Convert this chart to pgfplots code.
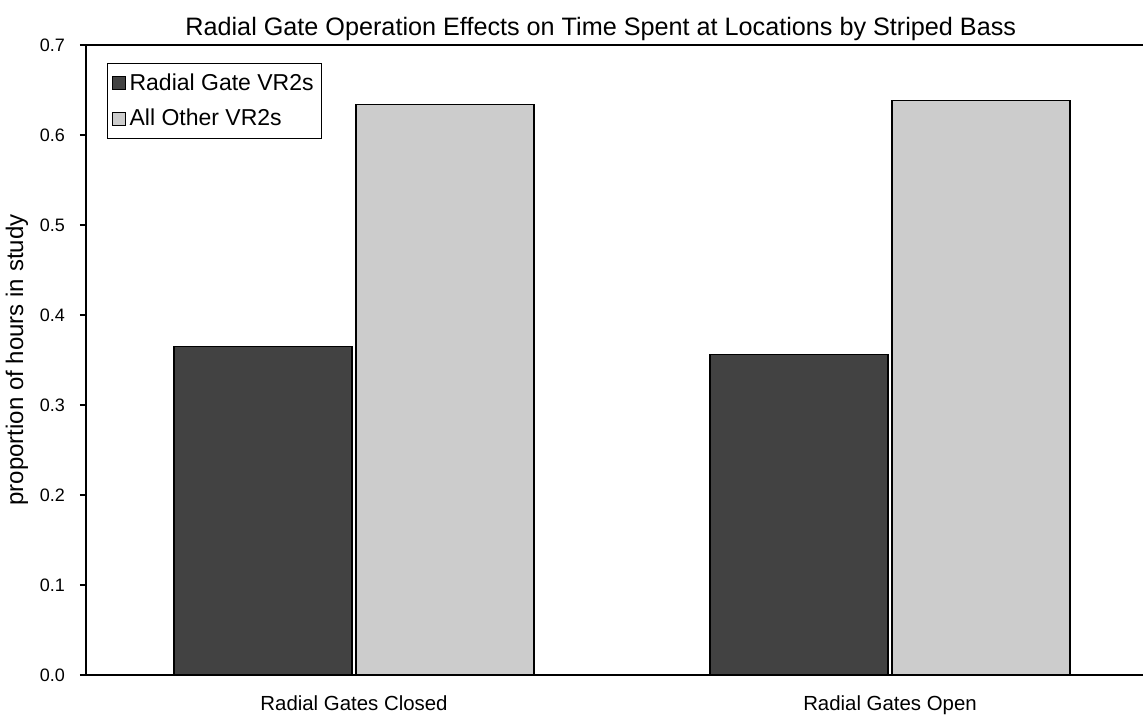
\documentclass[border=0pt]{standalone}
\usepackage{pgfplots}
\pgfplotsset{compat=1.18}
\usepackage{fontspec}
\setmainfont{Liberation Sans}
\usetikzlibrary{calc}
\definecolor{darkbar}{gray}{0.26}
\definecolor{lightbar}{gray}{0.80}
\begin{document}
\begin{tikzpicture}
\begin{axis}[
  scale only axis,
  width=528.5pt, height=315pt,
  xmin=0, xmax=1.972,
  ymin=0, ymax=0.7,
  axis x line*=bottom, axis y line*=left,
  axis line style={-, line width=0.8pt},
  ybar, bar width=89pt,
  xtick={0.5,1.5},
  xticklabels={Radial Gates Closed, Radial Gates Open},
  x tick style={draw=none},
  extra x ticks={1},
  extra x tick labels={},
  extra x tick style={tick style={draw=black, line width=0.6pt}, major tick length=4pt, tick align=outside},
  xticklabel style={font=\fontsize{10.2}{12}\selectfont, yshift=-4pt},
  ytick={0,0.1,...,0.7},
  yticklabel style={/pgf/number format/fixed, /pgf/number format/fixed zerofill, /pgf/number format/precision=1, /pgf/number format/assume math mode=true, font=\fontsize{9}{10}\selectfont, xshift=-4pt},
  y tick style={black, line width=0.6pt},
  tick align=outside, major tick length=3pt,
  ylabel={proportion of hours in study},
  every axis y label/.style={at={(rel axis cs:0,0.5)}, rotate=90, anchor=center, yshift=34.5pt, font=\fontsize{12}{14}\selectfont},
  title={Radial Gate Operation Effects on Time Spent at Locations by Striped Bass},
  title style={at={(rel axis cs:0.487,1)}, anchor=base, yshift=-1.5pt, font=\fontsize{12.6}{14}\selectfont},
  legend style={at={(rel axis cs:0,1)}, anchor=north west, xshift=10.5pt, yshift=-9pt,
    draw=black, line width=0.5pt, font=\fontsize{11.5}{13}\selectfont,
    inner xsep=2pt, inner ysep=3pt, row sep=4pt, cells={anchor=west}},
  legend image code/.code={\draw[#1, line width=0.5pt] (0cm,-0.11cm) rectangle (0.23cm,0.12cm);},
  legend cell align=left,
]
\addplot[fill=darkbar, draw=black, line width=0.7pt] coordinates {(0.5,0.365) (1.5,0.356)};
\addplot[fill=lightbar, draw=black, line width=0.7pt] coordinates {(0.5,0.634) (1.5,0.638)};
\legend{Radial Gate VR2s, All Other VR2s}
\draw[line width=0.8pt] (rel axis cs:0,1) -- (rel axis cs:1,1);
\end{axis}
\pgfresetboundingbox
\useasboundingbox ($(current axis.south west)+(-43pt,-21pt)$) rectangle ($(current axis.north east)+(0,22.5pt)$);
\end{tikzpicture}
\end{document}
